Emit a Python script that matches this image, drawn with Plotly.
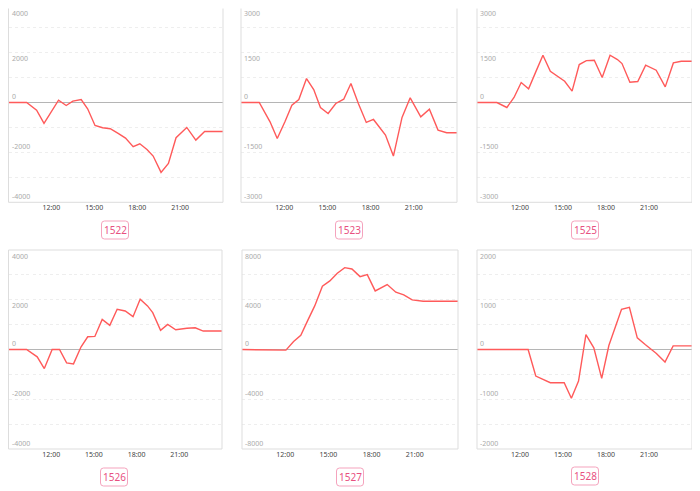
import plotly.graph_objects as go
from datetime import datetime, timedelta

# ---------------- data ----------------
labels = ["1522", "1523", "1525", "1526", "1527", "1528"]

times_1522 = ["09:00", "10:16", "10:58", "11:29", "12:30", "13:02", "13:30", "14:05", "14:32", "15:03",
              "15:35", "16:07", "16:40", "17:11", "17:43", "18:11", "18:41", "19:07", "19:40", "20:11",
              "20:43", "21:28", "22:06", "22:43", "24:00"]
values_1522 = [0, 0, -307, -840, 93, -120, 53, 120, -253, -920,
               -1013, -1053, -1240, -1427, -1773, -1653, -1880, -2147, -2800, -2440,
               -1413, -1000, -1507, -1160, -1160]

times_1523 = ["09:00", "10:16", "11:01", "11:31", "12:03", "12:32", "13:01", "13:33", "14:03", "14:31",
              "15:03", "15:35", "16:08", "16:38", "17:09", "17:42", "18:12", "19:02", "19:35", "20:11",
              "20:45", "21:29", "22:05", "22:41", "23:17", "24:00"]
values_1523 = [0, 0, -580, -1080, -580, -80, 90, 720, 390, -150,
               -330, -30, 100, 570, -30, -600, -510, -980, -1610, -450,
               140, -430, -200, -830, -910, -910]

times_1525 = ["09:00", "10:23", "11:05", "11:35", "12:05", "12:36", "13:06", "13:36", "14:07", "14:37",
              "15:07", "15:38", "16:08", "16:38", "17:11", "17:44", "18:17", "18:48", "19:07", "19:40",
              "20:13", "20:46", "21:30", "22:08", "22:42", "23:15", "24:00"]
values_1525 = [0, 0, -150, 150, 600, 410, 920, 1420, 940, 800,
               640, 340, 1140, 1260, 1270, 750, 1420, 1290, 1170, 610,
               630, 1120, 970, 470, 1190, 1240, 1240]

times_1526 = ["09:00", "10:16", "11:01", "11:31", "12:04", "12:35", "13:05", "13:34", "14:06", "14:34",
              "15:04", "15:35", "16:07", "16:38", "17:12", "17:45", "18:15", "18:46", "19:08", "19:41",
              "20:11", "20:45", "21:32", "22:07", "22:41", "24:00"]
values_1526 = [0, 0, -296, -768, 0, 0, -539, -579, 108, 512,
               525, 1212, 970, 1616, 1549, 1320, 2020, 1751, 1481, 768,
               1010, 795, 855, 875, 741, 741]

times_1527 = ["09:00", "11:35", "12:03", "12:35", "13:05", "13:35", "14:03", "14:35", "15:06", "15:37",
              "16:08", "16:38", "17:12", "17:42", "18:15", "19:05", "19:41", "20:14", "20:49", "21:35",
              "24:00"]
values_1527 = [0, 0, -54, 642, 1150, 2381, 3505, 5084, 5512, 6128,
               6583, 6476, 5860, 6021, 4710, 5218, 4603, 4389, 3988, 3880,
               3880]

times_1528 = ["09:00", "12:34", "13:06", "14:07", "15:05", "15:35", "16:05", "16:36", "17:09", "17:42",
              "18:12", "19:05", "19:38", "20:11", "20:44", "21:31", "22:07", "22:41", "24:00"]
values_1528 = [0, 0, -533, -667, -667, -980, -633, 300, 33, -580,
               80, 807, 847, 233, 100, -80, -253, 73, 73]

y_limits = [4000, 3000, 3000, 4000, 8000, 2000]
y_label_steps = [2000, 1500, 1500, 2000, 4000, 1000]
y_grid_steps = [1000, 750, 750, 1000, 2000, 500]
x_tick_labels = ["12:00", "15:00", "18:00", "21:00"]

series_times = [times_1522, times_1523, times_1525, times_1526, times_1527, times_1528]
series_values = [values_1522, values_1523, values_1525, values_1526, values_1527, values_1528]

# ---------------- helpers ----------------
BASE = datetime(2024, 1, 1)


def to_dt(s):
    h, m = s.split(":")
    return BASE + timedelta(hours=int(h), minutes=int(m))


# the page body has an 8px margin, so the figure starts at (8, 8) of the window
OFF = 8
W, H = 700 - OFF, 491 - OFF


def px(x):
    return (x - OFF) / W


def py(y):
    return 1 - (y - OFF) / H


# panel plot areas in window pixels (left, right, top, bottom) as in the reference
panels = [
    (8.5, 223, 2.7, 202.3),
    (241, 457, 2.7, 202.3),
    (477, 692, 2.7, 202.3),
    (8.5, 222, 250, 449),
    (242, 458, 250, 449),
    (477, 692, 250, 449),
]
# label boxes (center x, center y)
boxes = [(115, 230), (349, 230), (585, 230), (114, 477), (350, 477), (585, 476)]

LINE = "#ff5a5a"
FONT = "Noto Sans"
BORDER = "#dddddd"
LABEL_FONT = dict(size=7, color="#aaaaaa", family=FONT)

fig = go.Figure()
layout = dict(
    width=W, height=H,
    margin=dict(l=0, r=0, t=0, b=0),
    paper_bgcolor="white", plot_bgcolor="white",
    showlegend=False,
    font=dict(family=FONT),
)
annotations = []
shapes = []

for i in range(6):
    n = "" if i == 0 else str(i + 1)
    xa, ya = "x" + n, "y" + n
    l, r, t, b = panels[i]
    lim = y_limits[i]
    # visible top may be cut by the window edge: keep the reference scale
    vis_t = max(t, OFF + 0.5)
    zero_px = (t + b) / 2
    top_val = lim * (zero_px - vis_t) / (zero_px - t)

    fig.add_trace(go.Scatter(
        x=[to_dt(s) for s in series_times[i]], y=series_values[i],
        mode="lines", line=dict(color=LINE, width=1.4),
        xaxis=xa, yaxis=ya, hoverinfo="skip",
    ))
    layout["xaxis" + n] = dict(
        domain=[max(px(l), 0), min(px(r), 1)], anchor=ya,
        type="date",
        range=[BASE + timedelta(hours=9), BASE + timedelta(hours=24)],
        tickvals=[to_dt(s) for s in x_tick_labels], ticktext=x_tick_labels,
        tickfont=dict(size=7, color="#444"),
        ticks="", showgrid=False, zeroline=False, showline=False,
    )
    layout["yaxis" + n] = dict(
        domain=[py(b), py(vis_t)], anchor=xa,
        range=[-lim, top_val],
        tick0=0, dtick=y_grid_steps[i],
        showticklabels=False, ticks="",
        showgrid=True, gridcolor="#eeeeee", griddash="dot", gridwidth=1,
        zeroline=True, zerolinecolor="#b5b5b5", zerolinewidth=1,
        showline=False,
    )
    # border of the plot area (top edge only when it is inside the window)
    for (a0, a1, b0, b1) in [(0, 1, 0, 0), (0, 0, 0, 1), (1, 1, 0, 1)]:
        shapes.append(dict(type="line", xref=xa + " domain", yref=ya + " domain",
                           x0=a0, x1=a1, y0=b0, y1=b1, line=dict(color=BORDER, width=1)))
    if vis_t == t:
        shapes.append(dict(type="line", xref=xa + " domain", yref=ya + " domain",
                           x0=0, x1=1, y0=1, y1=1, line=dict(color=BORDER, width=1)))
    # y labels inside the plot
    step = y_label_steps[i]
    v = -lim
    while v <= lim:
        if v > top_val:
            # top label sits just under the cut top edge
            annotations.append(dict(
                x=0, xref=xa + " domain", y=1, yref=ya + " domain",
                text=str(v), showarrow=False,
                xanchor="left", yanchor="top", xshift=1, yshift=2,
                font=LABEL_FONT,
            ))
        else:
            annotations.append(dict(
                x=0, xref=xa + " domain", y=v, yref=ya,
                text=str(v), showarrow=False,
                xanchor="left", yanchor="middle", xshift=1,
                yshift=-6 if v > 0 else 6,
                font=LABEL_FONT,
            ))
        v += step
    # label box below the panel
    cx, cy = boxes[i]
    bw, bh, rr = 27, 18, 3
    x0, x1 = cx - bw / 2, cx + bw / 2
    y0, y1 = cy - bh / 2, cy + bh / 2
    path = (
        f"M {px(x0 + rr)} {py(y0)} L {px(x1 - rr)} {py(y0)} "
        f"Q {px(x1)} {py(y0)} {px(x1)} {py(y0 + rr)} "
        f"L {px(x1)} {py(y1 - rr)} Q {px(x1)} {py(y1)} {px(x1 - rr)} {py(y1)} "
        f"L {px(x0 + rr)} {py(y1)} Q {px(x0)} {py(y1)} {px(x0)} {py(y1 - rr)} "
        f"L {px(x0)} {py(y0 + rr)} Q {px(x0)} {py(y0)} {px(x0 + rr)} {py(y0)} Z"
    )
    shapes.append(dict(type="path", path=path, xref="paper", yref="paper",
                       line=dict(color="#f5a3bd", width=1), fillcolor="white"))
    annotations.append(dict(
        x=px(cx), y=py(cy), xref="paper", yref="paper",
        text=labels[i], showarrow=False, xanchor="center", yanchor="middle",
        font=dict(size=10, color="#e8507f", family=FONT),
    ))

layout["annotations"] = annotations
layout["shapes"] = shapes
fig.update_layout(**layout)
fig.write_html("out.html")
